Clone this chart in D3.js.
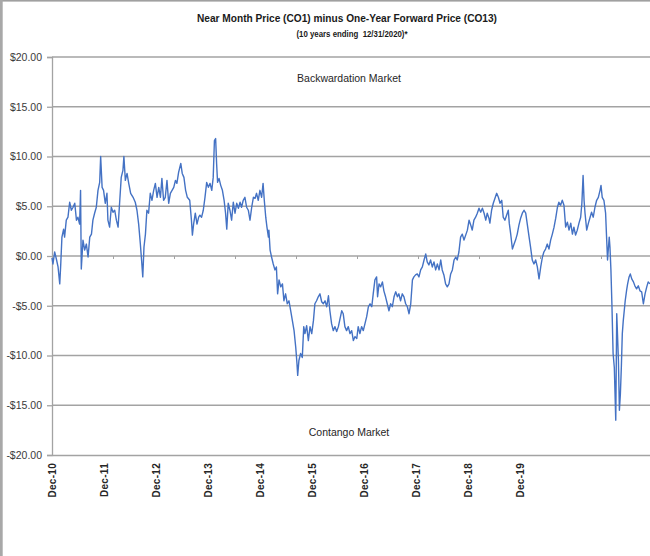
<!DOCTYPE html>
<html><head><meta charset="utf-8">
<script src="https://cdn.jsdelivr.net/npm/d3@7"></script>
<style>body{margin:0;background:#fff}svg{display:block;font-family:"Liberation Sans",Arial,sans-serif}</style>
</head><body><svg id="c" width="650" height="556"></svg>
<script>
// trading-day index (0 = Dec-10) and spread CO1 - CO13 in $
const tradingDay = [
0,4,11,18,25,32,36,41,48,52,59,66,73,80,87,94,101,107,114,118,121,128,135,142,149,156,163,169,176,183,190,197,201,207,213,220,227,231,238,245,252,259,266,273,280,286,293,297,303,310,317,325,335,344,351,358,365,370,375,380,386,392,399,406,413,420,427,434,441,448,454,461,468,475,482,489,496,503,510,516,523,532,538,545,552,559,569,576,580,585,592,599,606,
611,618,625,632,639,646,653,660,666,671,676,680,684,690,697,704,711,717,722,728,735,742,749,756,763,770,777,783,790,797,804,811,818,825,832,839,845,852,859,866,872,877,883,888,894,896,901,907,914,921,927,932,938,945,952,958,965,972,979,986,993,1000,1007,1012,1015,1020,1027,1034,1040,1045,1052,1059,1066,1073,1080,1086,1093,1100,1107,1114,1121,1128,1135,1142,1148,1155,1162,1169,1176,1183,
1197,1203,1210,1217,1224,1231,1238,1245,1252,1259,1265,1272,1279,1286,1293,1300,1307,1314,1321,1327,1334,1341,1345,1351,1358,1365,1371,1378,1385,1392,1399,1406,1413,1420,1427,1433,1440,1447,1454,1461,1468,1475,1482,1489,1495,1502,1509,1516,1523,1530,1537,1544,1550,1557,1564,1571,1578,1585,1592,1599,1606,1612,1619,1626,1633,1640,1647,1654,1661,1668,1674,1681,1688,1695,1702,1709,1716,1723,1730,1736,1743,1750,1757,1764,1771,1778,1785,1792,1798,1805,
1809,1816,1823,1830,1837,1844,1851,1858,1864,1871,1878,1885,1889,1895,1902,1909,1915,1922,1929,1936,1943,1950,1957,1964,1971,1977,1984,1991,1998,2005,2012,2019,2026,2032,2039,2046,2053,2060,2067,2074,2081,2088,2094,2101,2108,2115,2122,2129,2136,2143,2150,2156,2163,2170,2177,2184,2189,2194,2198,2202,2209,2216,2223,2229,2236,2243,2250,2257,2264,2268,2273,2280,2287,2291,2295,2298,2302,2305,2309,2313,2318,2323,2329,2333,2335,2340,2344,2348,2352,2356,2360,2364,2368,2374,2378,2384,2389,2395,2402,2408,2415,2422,2429,2436,2443,2450,2457,2463,2470
];
const spread = [
-0.2,-0.8,0.4,-0.3,-1.1,-2.8,-0.9,1.9,2.7,1.9,3.6,3.9,5.4,4.6,4.9,5.3,3.6,3.9,3.2,6.6,-1.3,1.6,0.6,1.2,-0.1,1.9,2.2,3.6,4.3,4.9,6.6,7.4,10.0,6.9,6.6,5.3,6.3,3.6,2.9,4.9,4.4,4.6,3.6,2.9,5.6,7.9,8.6,10.0,7.6,8.3,7.3,6.3,5.9,5.4,4.6,3.2,1.2,-0.4,-2.1,0.9,2.2,4.6,4.3,6.3,5.6,6.6,7.3,5.9,6.9,5.9,7.8,5.6,5.9,7.6,5.3,6.3,6.6,6.9,7.6,7.3,8.4,9.3,8.3,7.9,6.6,5.9,5.6,3.6,2.1,3.2,4.3,3.2,3.9,
4.1,3.9,4.6,5.9,7.4,6.9,7.3,6.6,7.9,11.6,11.8,9.3,7.4,7.8,7.1,6.6,5.6,4.3,2.7,5.3,4.6,3.6,5.4,4.3,5.3,4.8,5.4,4.9,5.6,5.9,4.9,4.6,3.6,4.9,5.9,5.8,6.3,5.6,6.6,5.9,7.3,5.6,3.9,2.9,1.9,2.6,0.6,-0.1,-0.8,-1.4,-1.1,-3.8,-2.4,-3.1,-2.8,-4.5,-3.8,-4.8,-4.5,-5.5,-6.5,-7.5,-9.2,-10.8,-12.0,-10.5,-9.8,-10.2,-7.1,-7.8,-7.0,-8.5,-7.1,-7.8,-6.5,-4.8,-4.5,-4.1,-3.8,-4.6,-4.8,-4.5,-5.1,-4.0,-5.5,-6.8,-7.5,-7.1,-7.6,-7.1,
-5.5,-5.8,-7.1,-7.5,-7.1,-7.8,-7.5,-8.5,-8.1,-8.3,-7.1,-7.8,-7.1,-7.5,-6.8,-6.1,-5.1,-4.8,-5.1,-3.8,-2.4,-2.1,-4.1,-2.8,-3.1,-2.6,-3.5,-4.1,-4.8,-5.5,-4.8,-5.1,-4.1,-3.6,-4.1,-3.8,-4.5,-3.8,-4.1,-4.8,-5.1,-5.8,-4.8,-2.4,-2.1,-1.9,-1.8,-2.1,-1.4,-1.1,-0.4,0.2,-0.6,-0.9,-0.4,-1.1,-0.6,-1.4,-0.8,-1.4,-0.4,-1.4,-1.9,-2.8,-3.1,-2.8,-1.8,-1.4,-0.4,-0.1,-0.4,0.4,1.9,2.2,1.6,2.1,2.6,3.6,3.1,2.6,3.6,3.9,4.3,4.8,4.4,4.8,4.3,3.6,4.3,3.8,
3.3,4.6,5.3,5.8,6.3,5.9,5.3,5.6,3.9,3.6,4.1,4.6,3.3,2.2,0.7,1.2,1.6,2.2,3.1,3.8,4.3,4.6,4.3,3.1,1.9,0.9,-0.4,-0.8,-0.4,-1.1,-2.3,-1.1,-0.1,0.4,0.7,1.2,0.7,1.6,2.2,2.9,3.8,4.9,5.4,5.1,5.6,5.1,2.9,3.4,2.6,3.3,2.2,2.9,2.1,2.6,3.3,3.9,5.3,8.1,5.6,4.3,2.6,3.3,3.9,4.4,3.9,4.9,5.6,5.9,6.6,7.1,5.9,5.6,4.3,1.9,-0.4,0.6,1.9,0.9,-1.4,-4.8,-9.8,-11.2,-16.5,-5.8,-7.1,-10.5,-15.5,-13.9,-11.2,-7.8,-6.5,-5.5,-4.5,-3.4,-2.8,-2.1,-1.8,-2.3,-2.6,-3.0,-3.3,-3.0,-3.5,-3.6,-4.8,-3.8,-3.1,-2.6,-2.8
];
const yTicks = [-20,-15,-10,-5,0,5,10,15,20];
const xLabelDays = [0,215,430,645,860,1075,1290,1505,1720,1935];
const xLabels = ["Dec-10","Dec-11","Dec-12","Dec-13","Dec-14","Dec-15","Dec-16","Dec-17","Dec-18","Dec-19"];
const yearDays = [252,504,756,1008,1260,1512,1764,2016,2268];
const titleText = "Near Month Price (CO1) minus One-Year Forward Price (CO13)";
const subtitleText = "(10 years ending  12/31/2020)*";
const topNote = "Backwardation Market";
const bottomNote = "Contango Market";

const svg = d3.select("#c");
const W = 650, H = 556;
const x = d3.scaleLinear().domain([0, 2520]).range([52, 662]);
const y = d3.scaleLinear().domain([-20, 20]).range([455, 57]);
const gridCol = "#a3a3a3";

// frame edges
svg.append("rect").attr("x",0).attr("y",0).attr("width",W).attr("height",1.6).attr("fill","#a0a0a0");
svg.append("rect").attr("x",0).attr("y",0).attr("width",2.7).attr("height",H).attr("fill","#a8a8a8");

// gridlines
svg.append("g").selectAll("line").data(yTicks.filter(d => d > -20)).join("line")
  .attr("x1", x(0)).attr("x2", W).attr("y1", d => y(d)).attr("y2", d => y(d))
  .attr("stroke", gridCol).attr("stroke-width", 1.3);

// small year ticks on the zero line
const zeroAxis = svg.append("g").attr("transform", `translate(0,${y(0)})`)
  .call(d3.axisBottom(x).tickValues(yearDays).tickSize(3).tickFormat(""));
zeroAxis.select(".domain").remove();
zeroAxis.selectAll("line").attr("stroke", gridCol).attr("stroke-width", 1);

// y axis
const ya = svg.append("g").attr("transform", `translate(${x(0)},0)`)
  .call(d3.axisLeft(y).tickValues(yTicks).tickSize(5).tickPadding(5)
    .tickFormat(d => (d < 0 ? "-$" : "$") + Math.abs(d).toFixed(2)));
ya.select(".domain").attr("stroke", gridCol).attr("stroke-width", 1.3);
ya.selectAll("line").attr("stroke", gridCol).attr("stroke-width", 1.3);
ya.selectAll("text").attr("fill", "#3a3a3a").style("font-size", "10.5px").style("font-family", '"Liberation Sans",Arial,sans-serif');

// x axis (category labels)
const xa = svg.append("g").attr("transform", `translate(0,${y(-20)})`)
  .call(d3.axisBottom(x).tickValues(xLabelDays).tickSize(0).tickFormat((d, i) => xLabels[i]));
xa.select(".domain").attr("stroke", gridCol).attr("stroke-width", 1.5);
xa.selectAll("text")
  .attr("y", 0).attr("x", -8).attr("dy", "0.35em")
  .attr("transform", "rotate(-90)")
  .style("text-anchor", "end")
  .style("font-size", "10px").style("font-weight", "bold")
  .style("letter-spacing", "0.3px")
  .style("font-family", '"Liberation Sans",Arial,sans-serif')
  .attr("fill", "#262626");

// data line
const pts = tradingDay.map((d, i) => [d, spread[i]]);
svg.append("path").datum(pts)
  .attr("d", d3.line().x(d => x(d[0])).y(d => y(d[1])))
  .attr("fill", "none").attr("stroke", "#4472c4").attr("stroke-width", 1.4)
  .attr("stroke-linejoin", "round");

// titles
svg.append("text").attr("x", 347).attr("y", 22).attr("text-anchor", "middle")
  .attr("textLength", 300).attr("lengthAdjust", "spacingAndGlyphs")
  .style("font-size", "11px").style("font-weight", "bold").attr("fill", "#1a1a1a").text(titleText);
svg.append("text").attr("x", 352).attr("y", 37).attr("text-anchor", "middle")
  .attr("textLength", 111).attr("lengthAdjust", "spacingAndGlyphs")
  .style("white-space", "pre")
  .style("font-size", "9px").style("font-weight", "bold").attr("fill", "#1a1a1a").text(subtitleText);

svg.append("text").attr("x", 349).attr("y", 82).attr("text-anchor", "middle")
  .style("font-size", "10.5px").attr("fill", "#262626").text(topNote);
svg.append("text").attr("x", 349).attr("y", 436).attr("text-anchor", "middle")
  .style("font-size", "10.5px").attr("fill", "#262626").text(bottomNote);
</script></body></html>
